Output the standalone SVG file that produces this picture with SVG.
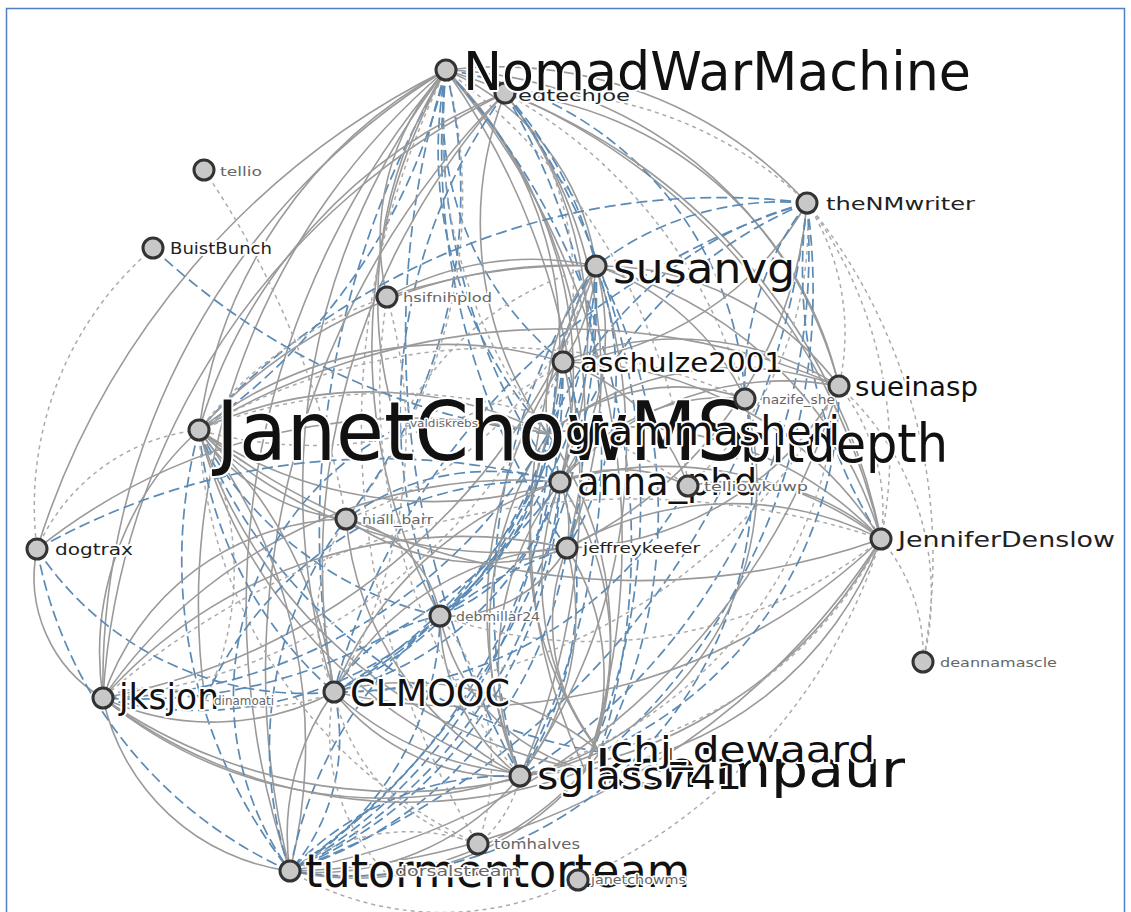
<svg xmlns="http://www.w3.org/2000/svg" width="1131" height="912" viewBox="0 0 1131 912">
<defs>
<style>
.s{fill:none;stroke:#9a9a9a;stroke-width:1.6}
.d{fill:none;stroke:#ababab;stroke-width:1.5;stroke-dasharray:4 4}
.b{fill:none;stroke:#5b8ab5;stroke-width:1.7;stroke-dasharray:11 5}
.n circle{fill:#c8c8c8;stroke:#333;stroke-width:3}
text{font-family:"DejaVu Sans",Verdana,sans-serif;paint-order:stroke;stroke:#fff;stroke-width:4;stroke-linejoin:round}
.lg{fill:#111}
.md{fill:#222}
.sm{fill:#666;stroke-width:3}
</style>
</defs>
<rect width="1131" height="912" fill="#fff"/>
<rect x="6.5" y="8.5" width="1118" height="920" fill="none" stroke="#4f7fc6" stroke-width="1.5"/>

<g id="links">
<path class="s" d="M446,70A720,720 0 0,0 103,698"/>
<path class="s" d="M446,70A820,820 0 0,0 290,871"/>
<path class="s" d="M446,70A680,680 0 0,0 334,692"/>
<path class="b" d="M446,70A900,900 0 0,0 334,692"/>
<path class="s" d="M446,70A480,480 0 0,0 199,430"/>
<path class="b" d="M446,70A600,600 0 0,1 199,430"/>
<path class="s" d="M446,70A800,800 0 0,0 37,549"/>
<path class="s" d="M446,70A700,700 0 0,0 205,700"/>
<path class="s" d="M446,70A720,720 0 0,1 520,776"/>
<path class="b" d="M446,70A900,900 0 0,0 520,776"/>
<path class="s" d="M446,70A430,430 0 0,1 560,482"/>
<path class="b" d="M446,70A600,600 0 0,0 560,482"/>
<path class="b" d="M446,70A320,320 0 0,0 563,362"/>
<path class="s" d="M446,70A250,250 0 0,1 596,266"/>
<path class="s" d="M446,70A380,380 0 0,1 548,434"/>
<path class="d" d="M446,70A500,500 0 0,0 548,434"/>
<path class="b" d="M446,70A420,420 0 0,0 548,434"/>
<path class="s" d="M446,70A500,500 0 0,1 567,548"/>
<path class="b" d="M446,70A700,700 0 0,0 567,548"/>
<path class="s" d="M446,70A560,560 0 0,0 440,616"/>
<path class="d" d="M446,70A500,500 0 0,1 346,519"/>
<path class="s" d="M446,70A250,250 0 0,0 387,297"/>
<path class="s" d="M446,70A420,420 0 0,1 839,386"/>
<path class="s" d="M446,70A640,640 0 0,1 881,539"/>
<path class="s" d="M446,70A420,420 0 0,1 807,203"/>
<path class="s" d="M446,70A720,720 0 0,1 585,770"/>
<path class="b" d="M446,70A700,700 0 0,1 600,752"/>
<path class="d" d="M446,70A800,800 0 0,0 478,844"/>
<path class="b" d="M446,70A350,350 0 0,1 745,399"/>
<path class="d" d="M446,70A600,600 0 0,1 688,486"/>
<path class="s" d="M446,70A420,420 0 0,0 398,428"/>
<path class="b" d="M446,70A520,520 0 0,1 346,519"/>
<path class="s" d="M505,93A520,520 0 0,0 199,430"/>
<path class="s" d="M505,93A700,700 0 0,0 334,692"/>
<path class="b" d="M505,93A700,700 0 0,1 520,776"/>
<path class="s" d="M505,93A400,400 0 0,1 560,482"/>
<path class="s" d="M505,93A820,820 0 0,0 290,871"/>
<path class="s" d="M505,93A720,720 0 0,0 103,698"/>
<path class="d" d="M505,93A300,300 0 0,1 563,362"/>
<path class="s" d="M505,93A360,360 0 0,0 548,434"/>
<path class="s" d="M505,93A380,380 0 0,1 839,386"/>
<path class="s" d="M505,93A600,600 0 0,1 881,539"/>
<path class="d" d="M505,93A400,400 0 0,1 807,203"/>
<path class="b" d="M505,93A540,540 0 0,0 440,616"/>
<path class="s" d="M505,93A460,460 0 0,1 567,548"/>
<path class="b" d="M505,93A680,680 0 0,1 585,770"/>
<path class="b" d="M505,93A400,400 0 0,1 596,266"/>
<path class="d" d="M505,93A500,500 0 0,1 745,399"/>
<path class="b" d="M807,203A700,700 0 0,0 199,430"/>
<path class="b" d="M807,203A700,700 0 0,0 334,692"/>
<path class="b" d="M807,203A420,420 0 0,0 560,482"/>
<path class="b" d="M807,203A620,620 0 0,1 520,776"/>
<path class="b" d="M807,203A300,300 0 0,0 596,266"/>
<path class="s" d="M807,203A320,320 0 0,1 563,362"/>
<path class="d" d="M807,203A420,420 0 0,1 881,539"/>
<path class="d" d="M807,203A240,240 0 0,1 839,386"/>
<path class="b" d="M807,203A380,380 0 0,0 548,434"/>
<path class="b" d="M807,203A800,800 0 0,1 290,871"/>
<path class="s" d="M807,203A420,420 0 0,1 567,548"/>
<path class="d" d="M807,203A340,340 0 0,1 688,486"/>
<path class="d" d="M807,203A560,560 0 0,1 923,662"/>
<path class="b" d="M807,203A620,620 0 0,1 585,770"/>
<path class="b" d="M807,203A500,500 0 0,0 881,539"/>
<path class="b" d="M807,203A300,300 0 0,0 745,399"/>
<path class="s" d="M596,266A500,500 0 0,0 199,430"/>
<path class="s" d="M596,266A200,200 0 0,1 563,362"/>
<path class="s" d="M596,266A260,260 0 0,1 560,482"/>
<path class="b" d="M596,266A300,300 0 0,0 560,482"/>
<path class="b" d="M596,266A520,520 0 0,1 334,692"/>
<path class="s" d="M596,266A560,560 0 0,1 520,776"/>
<path class="b" d="M596,266A600,600 0 0,0 520,776"/>
<path class="b" d="M596,266A700,700 0 0,1 290,871"/>
<path class="s" d="M596,266A640,640 0 0,1 103,698"/>
<path class="b" d="M596,266A320,320 0 0,1 567,548"/>
<path class="s" d="M596,266A220,220 0 0,0 548,434"/>
<path class="b" d="M596,266A440,440 0 0,1 440,616"/>
<path class="d" d="M596,266A400,400 0 0,1 346,519"/>
<path class="s" d="M596,266A300,300 0 0,1 839,386"/>
<path class="s" d="M596,266A250,250 0 0,1 745,399"/>
<path class="s" d="M596,266A400,400 0 0,1 881,539"/>
<path class="s" d="M596,266A560,560 0 0,0 585,770"/>
<path class="b" d="M596,266A520,520 0 0,1 600,752"/>
<path class="s" d="M596,266A300,300 0 0,0 387,297"/>
<path class="d" d="M596,266A300,300 0 0,0 398,428"/>
<path class="s" d="M563,362A400,400 0 0,0 199,430"/>
<path class="d" d="M563,362A420,420 0 0,1 199,430"/>
<path class="b" d="M563,362A420,420 0 0,1 334,692"/>
<path class="b" d="M563,362A600,600 0 0,1 290,871"/>
<path class="s" d="M563,362A440,440 0 0,0 520,776"/>
<path class="d" d="M563,362A560,560 0 0,1 103,698"/>
<path class="s" d="M563,362A200,200 0 0,1 560,482"/>
<path class="b" d="M563,362A260,260 0 0,1 567,548"/>
<path class="s" d="M563,362A300,300 0 0,1 839,386"/>
<path class="s" d="M563,362A380,380 0 0,1 881,539"/>
<path class="s" d="M563,362A200,200 0 0,1 688,486"/>
<path class="b" d="M563,362A340,340 0 0,1 440,616"/>
<path class="s" d="M199,430A400,400 0 0,1 548,434"/>
<path class="s" d="M199,430A420,420 0 0,0 560,482"/>
<path class="b" d="M199,430A400,400 0 0,0 334,692"/>
<path class="s" d="M199,430A420,420 0 0,1 334,692"/>
<path class="b" d="M199,430A500,500 0 0,0 290,871"/>
<path class="s" d="M199,430A520,520 0 0,1 290,871"/>
<path class="s" d="M199,430A500,500 0 0,0 520,776"/>
<path class="s" d="M199,430A300,300 0 0,0 103,698"/>
<path class="d" d="M199,430A200,200 0 0,0 37,549"/>
<path class="s" d="M199,430A200,200 0 0,0 346,519"/>
<path class="b" d="M199,430A360,360 0 0,0 440,616"/>
<path class="s" d="M199,430A440,440 0 0,0 567,548"/>
<path class="s" d="M199,430A700,700 0 0,1 839,386"/>
<path class="d" d="M199,430A600,600 0 0,1 745,399"/>
<path class="s" d="M199,430A720,720 0 0,0 881,539"/>
<path class="s" d="M199,430A500,500 0 0,0 585,770"/>
<path class="b" d="M199,430A520,520 0 0,0 600,752"/>
<path class="d" d="M199,430A520,520 0 0,1 688,486"/>
<path class="d" d="M199,430A300,300 0 0,1 205,700"/>
<path class="d" d="M199,430A480,480 0 0,0 478,844"/>
<path class="b" d="M548,434A380,380 0 0,1 334,692"/>
<path class="b" d="M548,434A500,500 0 0,1 290,871"/>
<path class="s" d="M548,434A360,360 0 0,0 520,776"/>
<path class="b" d="M548,434A520,520 0 0,1 103,698"/>
<path class="s" d="M548,434A300,300 0 0,1 839,386"/>
<path class="s" d="M548,434A360,360 0 0,1 881,539"/>
<path class="b" d="M548,434A260,260 0 0,1 440,616"/>
<path class="s" d="M548,434A360,360 0 0,1 585,770"/>
<path class="s" d="M548,434A340,340 0 0,0 600,752"/>
<path class="s" d="M548,434A200,200 0 0,1 745,399"/>
<path class="b" d="M560,482A320,320 0 0,1 334,692"/>
<path class="s" d="M560,482A360,360 0 0,0 334,692"/>
<path class="b" d="M560,482A480,480 0 0,1 290,871"/>
<path class="s" d="M560,482A300,300 0 0,0 520,776"/>
<path class="b" d="M560,482A340,340 0 0,1 520,776"/>
<path class="b" d="M560,482A520,520 0 0,1 103,698"/>
<path class="s" d="M560,482A500,500 0 0,0 103,698"/>
<path class="b" d="M560,482A240,240 0 0,0 346,519"/>
<path class="s" d="M560,482A120,120 0 0,1 567,548"/>
<path class="b" d="M560,482A200,200 0 0,1 440,616"/>
<path class="s" d="M560,482A360,360 0 0,1 881,539"/>
<path class="s" d="M560,482A300,300 0 0,1 585,770"/>
<path class="s" d="M560,482A280,280 0 0,0 600,752"/>
<path class="s" d="M560,482A300,300 0 0,1 839,386"/>
<path class="s" d="M560,482A200,200 0 0,1 745,399"/>
<path class="s" d="M560,482A150,150 0 0,1 688,486"/>
<path class="d" d="M881,539A180,180 0 0,1 923,662"/>
<path class="s" d="M881,539A720,720 0 0,1 290,871"/>
<path class="s" d="M881,539A460,460 0 0,1 520,776"/>
<path class="s" d="M881,539A600,600 0 0,1 334,692"/>
<path class="d" d="M881,539A800,800 0 0,0 103,698"/>
<path class="d" d="M881,539A400,400 0 0,1 600,752"/>
<path class="d" d="M881,539A200,200 0 0,0 839,386"/>
<path class="s" d="M881,539A220,220 0 0,0 688,486"/>
<path class="s" d="M881,539A330,330 0 0,0 567,548"/>
<path class="d" d="M881,539A460,460 0 0,1 440,616"/>
<path class="s" d="M881,539A360,360 0 0,1 585,770"/>
<path class="s" d="M839,386A700,700 0 0,1 290,871"/>
<path class="d" d="M839,386A440,440 0 0,1 520,776"/>
<path class="d" d="M839,386A560,560 0 0,1 334,692"/>
<path class="b" d="M839,386A400,400 0 0,1 600,752"/>
<path class="s" d="M839,386A320,320 0 0,1 567,548"/>
<path class="d" d="M839,386A280,280 0 0,1 923,662"/>
<path class="s" d="M334,692A260,260 0 0,1 103,698"/>
<path class="b" d="M334,692A200,200 0 0,1 290,871"/>
<path class="s" d="M334,692A240,240 0 0,0 290,871"/>
<path class="s" d="M334,692A220,220 0 0,0 520,776"/>
<path class="b" d="M334,692A150,150 0 0,1 440,616"/>
<path class="s" d="M334,692A280,280 0 0,1 567,548"/>
<path class="d" d="M334,692A180,180 0 0,1 346,519"/>
<path class="s" d="M334,692A300,300 0 0,0 585,770"/>
<path class="s" d="M334,692A300,300 0 0,1 600,752"/>
<path class="b" d="M334,692A320,320 0 0,1 37,549"/>
<path class="d" d="M334,692A200,200 0 0,0 478,844"/>
<path class="d" d="M334,692A200,200 0 0,0 385,872"/>
<path class="s" d="M520,776A440,440 0 0,1 103,698"/>
<path class="s" d="M520,776A260,260 0 0,1 290,871"/>
<path class="b" d="M520,776A300,300 0 0,0 290,871"/>
<path class="s" d="M520,776A200,200 0 0,1 440,616"/>
<path class="s" d="M520,776A260,260 0 0,0 567,548"/>
<path class="s" d="M520,776A320,320 0 0,1 346,519"/>
<path class="d" d="M520,776A120,120 0 0,1 478,844"/>
<path class="s" d="M290,871A220,220 0 0,1 103,698"/>
<path class="b" d="M290,871A300,300 0 0,0 440,616"/>
<path class="b" d="M290,871A380,380 0 0,1 346,519"/>
<path class="b" d="M290,871A400,400 0 0,0 567,548"/>
<path class="b" d="M290,871A420,420 0 0,1 567,548"/>
<path class="s" d="M290,871A320,320 0 0,0 585,770"/>
<path class="s" d="M290,871A300,300 0 0,0 600,752"/>
<path class="d" d="M290,871A200,200 0 0,1 478,844"/>
<path class="d" d="M290,871A300,300 0 0,0 578,880"/>
<path class="b" d="M290,871A440,440 0 0,0 560,482"/>
<path class="s" d="M103,698A140,140 0 0,1 37,549"/>
<path class="b" d="M103,698A360,360 0 0,0 440,616"/>
<path class="s" d="M103,698A480,480 0 0,1 567,548"/>
<path class="s" d="M103,698A260,260 0 0,1 346,519"/>
<path class="s" d="M103,698A500,500 0 0,0 585,770"/>
<path class="s" d="M103,698A520,520 0 0,0 600,752"/>
<path class="d" d="M103,698A120,120 0 0,1 205,700"/>
<path class="d" d="M153,248A340,340 0 0,0 37,549"/>
<path class="b" d="M37,549A440,440 0 0,0 290,871"/>
<path class="d" d="M204,170A900,900 0 0,1 346,519"/>
<path class="b" d="M153,248A700,700 0 0,0 548,434"/>
<path class="s" d="M387,297A600,600 0 0,1 596,266"/>
<path class="d" d="M387,297A400,400 0 0,0 199,430"/>
<path class="d" d="M387,297A500,500 0 0,1 334,692"/>
<path class="d" d="M387,297A600,600 0 0,0 520,776"/>
<path class="d" d="M578,880A560,560 0 0,0 881,539"/>
<path class="d" d="M478,844A240,240 0 0,0 440,616"/>
<path class="b" d="M688,486A400,400 0 0,1 334,692"/>
<path class="s" d="M346,519A120,120 0 0,1 440,616"/>
<path class="s" d="M346,519A240,240 0 0,0 567,548"/>
<path class="s" d="M440,616A140,140 0 0,0 567,548"/>
<path class="s" d="M440,616A200,200 0 0,0 585,770"/>
<path class="s" d="M567,548A240,240 0 0,1 585,770"/>
<path class="s" d="M567,548A200,200 0 0,0 600,752"/>
<path class="b" d="M398,428A300,300 0 0,0 290,871"/>
<path class="d" d="M398,428A300,300 0 0,1 548,434"/>
<path class="b" d="M745,399A400,400 0 0,1 290,871"/>
<path class="s" d="M745,399A300,300 0 0,1 520,776"/>
<path class="b" d="M37,549A700,700 0 0,1 560,482"/>
<path class="s" d="M37,549A600,600 0 0,1 548,434"/>
<path class="b" d="M205,700A360,360 0 0,1 560,482"/>
<path class="d" d="M205,700A200,200 0 0,0 334,692"/>
</g>

<g id="nodes">
<g id="node-JanetChowMS" class="n"><circle cx="199" cy="430" r="10"/><text class="lg" x="216" y="460" font-size="82" textLength="530" lengthAdjust="spacingAndGlyphs">JanetChowMS</text></g>
<g id="node-valdiskrebs" class="n"><text class="sm" x="410" y="427" font-size="11" textLength="68" lengthAdjust="spacingAndGlyphs">valdiskrebs</text></g>
<g id="node-bitdepth" class="n"><text class="lg" x="740" y="462" font-size="54" textLength="208" lengthAdjust="spacingAndGlyphs">bitdepth</text></g>
<g id="node-nazife_she" class="n"><circle cx="745" cy="399" r="10"/><text class="sm" x="762" y="404" font-size="13" textLength="73" lengthAdjust="spacingAndGlyphs">nazife_she</text></g>
<g id="node-grammasheri" class="n"><text class="lg" x="565" y="445" font-size="40" textLength="275" lengthAdjust="spacingAndGlyphs">grammasheri</text></g>
<g id="node-anna_phd" class="n"><circle cx="560" cy="482" r="10"/><text class="lg" x="577" y="495" font-size="38" textLength="180" lengthAdjust="spacingAndGlyphs">anna_phd</text></g>
<g id="node-telliowkuwp" class="n"><circle cx="688" cy="486" r="10"/><text class="sm" x="704" y="491" font-size="13" textLength="104" lengthAdjust="spacingAndGlyphs">telliowkuwp</text></g>
<g id="node-edtechjoe" class="n"><circle cx="505" cy="93" r="10"/><text class="md" x="518" y="101" font-size="16" textLength="112" lengthAdjust="spacingAndGlyphs">edtechjoe</text></g>
<g id="node-NomadWarMachine" class="n"><circle cx="446" cy="70" r="10"/><text class="lg" x="463" y="90" font-size="54" textLength="508" lengthAdjust="spacingAndGlyphs">NomadWarMachine</text></g>
<g id="node-tellio" class="n"><circle cx="204" cy="170" r="10"/><text class="sm" x="220" y="176" font-size="13" textLength="42" lengthAdjust="spacingAndGlyphs">tellio</text></g>
<g id="node-BuistBunch" class="n"><circle cx="153" cy="248" r="10"/><text class="md" x="170" y="254" font-size="15" textLength="102" lengthAdjust="spacingAndGlyphs">BuistBunch</text></g>
<g id="node-theNMwriter" class="n"><circle cx="807" cy="203" r="10"/><text class="md" x="826" y="210" font-size="18" textLength="149" lengthAdjust="spacingAndGlyphs">theNMwriter</text></g>
<g id="node-susanvg" class="n"><circle cx="596" cy="266" r="10"/><text class="lg" x="613" y="283" font-size="42" textLength="182" lengthAdjust="spacingAndGlyphs">susanvg</text></g>
<g id="node-hsifnihplod" class="n"><circle cx="387" cy="297" r="10"/><text class="sm" x="403" y="302" font-size="12" textLength="89" lengthAdjust="spacingAndGlyphs">hsifnihplod</text></g>
<g id="node-aschulze2001" class="n"><circle cx="563" cy="362" r="10"/><text class="lg" x="580" y="372" font-size="27" textLength="203" lengthAdjust="spacingAndGlyphs">aschulze2001</text></g>
<g id="node-sueinasp" class="n"><circle cx="839" cy="386" r="10"/><text class="lg" x="855" y="396" font-size="26" textLength="123" lengthAdjust="spacingAndGlyphs">sueinasp</text></g>
<g id="node-niall_barr" class="n"><circle cx="346" cy="519" r="10"/><text class="sm" x="362" y="524" font-size="12" textLength="71" lengthAdjust="spacingAndGlyphs">niall_barr</text></g>
<g id="node-jeffreykeefer" class="n"><circle cx="567" cy="548" r="10"/><text class="md" x="583" y="553" font-size="14" textLength="117" lengthAdjust="spacingAndGlyphs">jeffreykeefer</text></g>
<g id="node-JenniferDenslow" class="n"><circle cx="881" cy="539" r="10"/><text class="md" x="898" y="547" font-size="22" textLength="217" lengthAdjust="spacingAndGlyphs">JenniferDenslow</text></g>
<g id="node-dogtrax" class="n"><circle cx="37" cy="549" r="10"/><text class="md" x="55" y="555" font-size="16" textLength="78" lengthAdjust="spacingAndGlyphs">dogtrax</text></g>
<g id="node-debmillar24" class="n"><circle cx="440" cy="616" r="10"/><text class="sm" x="456" y="621" font-size="13" textLength="84" lengthAdjust="spacingAndGlyphs">debmillar24</text></g>
<g id="node-deannamascle" class="n"><circle cx="923" cy="662" r="10"/><text class="sm" x="940" y="667" font-size="13" textLength="117" lengthAdjust="spacingAndGlyphs">deannamascle</text></g>
<g id="node-jksjon" class="n"><circle cx="103" cy="698" r="10"/><text class="lg" x="119" y="709" font-size="36" textLength="100" lengthAdjust="spacingAndGlyphs">jksjon</text></g>
<g id="node-dinamoati" class="n"><text class="sm" x="214" y="705" font-size="12" textLength="60" lengthAdjust="spacingAndGlyphs">dinamoati</text></g>
<g id="node-CLMOOC" class="n"><circle cx="334" cy="692" r="10"/><text class="lg" x="350" y="706" font-size="38" textLength="160" lengthAdjust="spacingAndGlyphs">CLMOOC</text></g>
<g id="node-kchimpaur" class="n"><text class="lg" x="595" y="787" font-size="52" textLength="310" lengthAdjust="spacingAndGlyphs">kchimpaur</text></g>
<g id="node-sglass741" class="n"><circle cx="520" cy="776" r="10"/><text class="lg" x="537" y="789" font-size="38" textLength="205" lengthAdjust="spacingAndGlyphs">sglass741</text></g>
<g id="node-chj_dewaard" class="n"><text class="lg" x="610" y="762" font-size="36" textLength="265" lengthAdjust="spacingAndGlyphs">chj_dewaard</text></g>
<g id="node-tutormentorteam" class="n"><circle cx="290" cy="871" r="10"/><text class="lg" x="305" y="887" font-size="46" textLength="385" lengthAdjust="spacingAndGlyphs">tutormentorteam</text></g>
<g id="node-dorsalstream" class="n"><text class="sm" x="395" y="876" font-size="14" textLength="125" lengthAdjust="spacingAndGlyphs">dorsalstream</text></g>
<g id="node-tomhalves" class="n"><circle cx="478" cy="844" r="10"/><text class="sm" x="494" y="849" font-size="14" textLength="86" lengthAdjust="spacingAndGlyphs">tomhalves</text></g>
<g id="node-janetchowms" class="n"><circle cx="578" cy="880" r="10"/><text class="sm" x="591" y="884" font-size="13" textLength="95" lengthAdjust="spacingAndGlyphs">janetchowms</text></g>
</g>
</svg>
